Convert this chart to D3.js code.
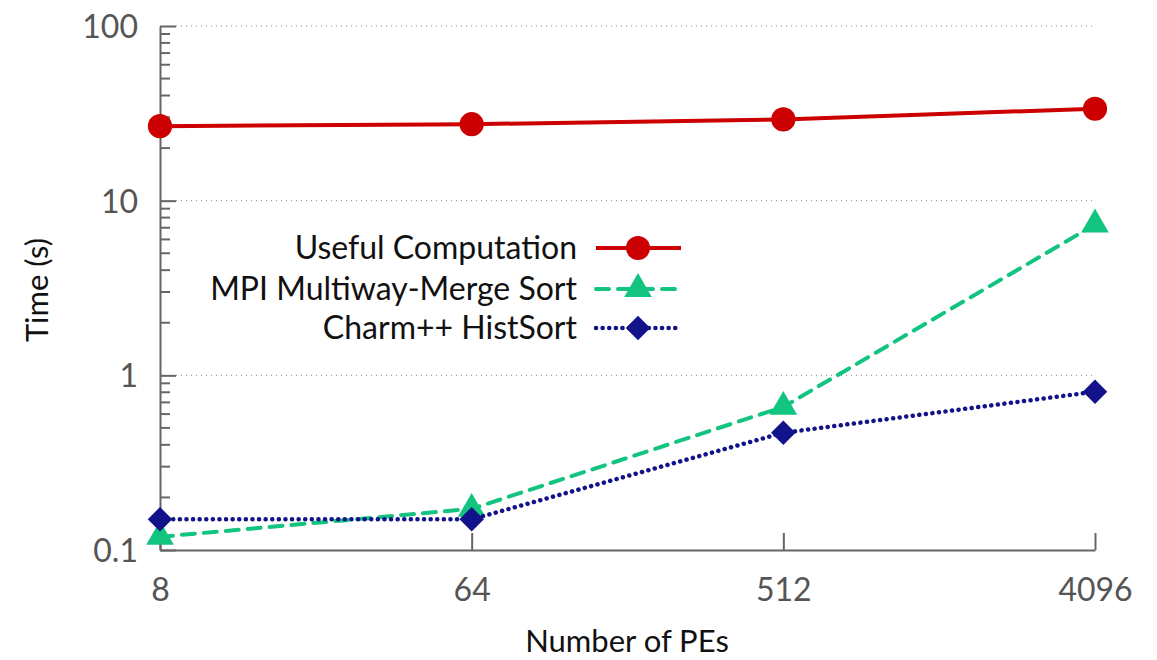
<!DOCTYPE html>
<html><head><meta charset="utf-8">
<script src="https://cdn.jsdelivr.net/npm/d3@7"></script>
<style>body{margin:0;background:#fff}svg{display:block}text{font-family:Lato,"Open Sans",sans-serif}</style>
</head><body><svg id="c" width="1157" height="660"></svg>
<script>
const pes = [8, 64, 512, 4096];
const useful = [26.7, 27.4, 29.2, 33.6];
const mpi = [0.119, 0.172, 0.66, 7.3];
const charm = [0.150, 0.150, 0.469, 0.806];
const yTicks = [0.1, 1, 10, 100];
const yTickLabels = ["0.1", "1", "10", "100"];
const seriesNames = ["Useful Computation", "MPI Multiway-Merge Sort", "Charm++ HistSort"];

const svg = d3.select("#c");
const x = d3.scaleLog().base(2).domain([8, 4096]).range([160, 1095]);
const y = d3.scaleLog().domain([0.1, 100]).range([550, 26]);
const axisCol = "#666";

// grid
svg.append("g").selectAll("line").data(yTicks.slice(1)).join("line")
  .attr("x1", 176).attr("x2", 1095).attr("y1", d => y(d)).attr("y2", d => y(d))
  .attr("stroke", "#888").attr("stroke-width", 1).attr("stroke-dasharray", "1,4");

// minor y ticks
const minors = [];
for (let e = -1; e < 2; e++) for (let m = 2; m <= 9; m++) minors.push(m * Math.pow(10, e));
svg.append("g").selectAll("line").data(minors).join("line")
  .attr("x1", 160).attr("x2", 170).attr("y1", d => y(d)).attr("y2", d => y(d))
  .attr("stroke", axisCol).attr("stroke-width", 2);

// y axis
const yAxis = d3.axisLeft(y).tickValues(yTicks).tickFormat((d, i) => yTickLabels[i]).tickSizeInner(-16).tickSizeOuter(0).tickPadding(22);
const gy = svg.append("g").attr("transform", "translate(160,0)").call(yAxis);
gy.select(".domain").attr("stroke", axisCol).attr("stroke-width", 2);
gy.selectAll(".tick line").attr("stroke", axisCol).attr("stroke-width", 2);
gy.selectAll(".tick text").attr("fill", "#555").style("font-size", "32px").style("font-family", "Lato").attr("dy", "0.36em");

// x axis
const xAxis = d3.axisBottom(x).tickValues(pes).tickFormat(d3.format("d")).tickSizeInner(-17).tickSizeOuter(0).tickPadding(28);
const gx = svg.append("g").attr("transform", "translate(0,550)").call(xAxis);
gx.select(".domain").attr("stroke", axisCol).attr("stroke-width", 2);
gx.selectAll(".tick line").attr("stroke", axisCol).attr("stroke-width", 2);
gx.selectAll(".tick text").attr("fill", "#555").style("font-size", "32px").style("font-family", "Lato");

// axis titles
svg.append("text").attr("x", 627).attr("y", 652).attr("text-anchor", "middle")
  .style("font-size", "31px").attr("fill", "#111").text("Number of PEs");
svg.append("text").attr("transform", "translate(48,290) rotate(-90)").attr("text-anchor", "middle")
  .style("font-size", "31px").attr("fill", "#111").text("Time (s)");

const styles = [
  {col: "#cc0000", dash: null, cap: "butt", marker: d3.symbolCircle, size: 460, rot: 0},
  {col: "#12c47f", dash: "13,9", cap: "round", marker: d3.symbolTriangle, size: 330, rot: 0},
  {col: "#12128a", dash: "0.1,6.5", cap: "round", marker: d3.symbolSquare, size: 300, rot: 45}
];
const data = [useful, mpi, charm];
const line = d3.line().x((d, i) => x(pes[i])).y(d => y(d));

data.forEach((vals, k) => {
  const s = styles[k];
  svg.append("path").datum(vals).attr("d", line).attr("fill", "none")
    .attr("stroke", s.col).attr("stroke-width", k === 2 ? 4.5 : 4)
    .attr("stroke-dasharray", s.dash).attr("stroke-linecap", s.cap);
  svg.append("g").selectAll("path").data(vals).join("path")
    .attr("transform", (d, i) => `translate(${x(pes[i])},${y(d)}) rotate(${s.rot})`)
    .attr("d", d3.symbol().type(s.marker).size(s.size)).attr("fill", s.col);
});

// legend
const ly = [248, 289, 328];
seriesNames.forEach((n, k) => {
  const s = styles[k];
  svg.append("text").attr("x", 577).attr("y", ly[k]).attr("dy", "0.35em").attr("text-anchor", "end")
    .style("font-size", "32px").attr("fill", "#111").text(n);
  svg.append("line").attr("x1", 596).attr("x2", 681).attr("y1", ly[k]).attr("y2", ly[k])
    .attr("stroke", s.col).attr("stroke-width", k === 2 ? 4.5 : 4).attr("stroke-dasharray", s.dash).attr("stroke-linecap", s.cap);
  svg.append("path").attr("transform", `translate(638,${ly[k]}) rotate(${s.rot})`)
    .attr("d", d3.symbol().type(s.marker).size(s.size)).attr("fill", s.col);
});
</script></body></html>
